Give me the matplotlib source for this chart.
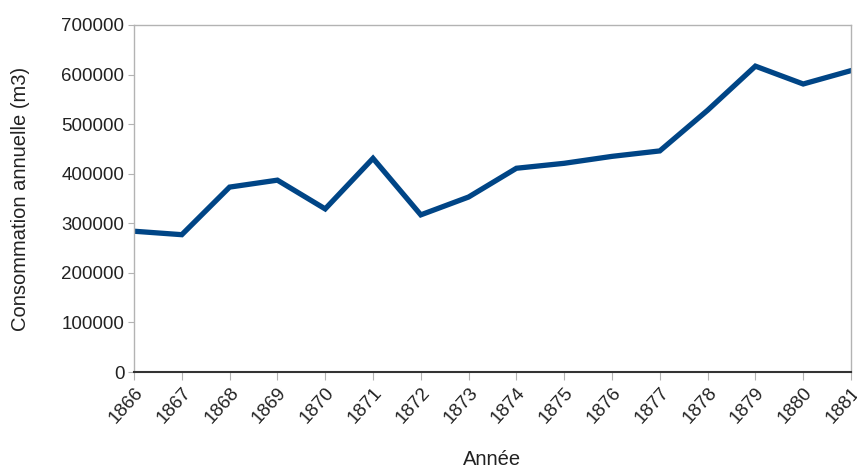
import matplotlib
matplotlib.use("Agg")
import matplotlib.pyplot as plt

plt.rcParams['font.family'] = ['Liberation Sans', 'DejaVu Sans']

years = ['1866', '1867', '1868', '1869', '1870', '1871', '1872', '1873',
         '1874', '1875', '1876', '1877', '1878', '1879', '1880', '1881']
consommation = [284000, 277000, 373000, 387000, 329000, 431000, 317000, 353000,
                411000, 421000, 435000, 446000, 528000, 617000, 581000, 608000]
y_ticks = [0, 100000, 200000, 300000, 400000, 500000, 600000, 700000]

fig = plt.figure(figsize=(8.57, 4.73), dpi=100)
ax = fig.add_axes([134/857, 1 - 372/473, (851 - 134)/857, (372 - 25)/473])

x = list(range(len(years)))
ax.plot(x, consommation, color='#004586', linewidth=3.8, solid_joinstyle='miter')

ax.set_xlim(0, len(years) - 1)
ax.set_ylim(0, 700000)
ax.set_yticks(y_ticks)
ax.set_yticklabels([str(v) for v in y_ticks], fontsize=13.5, color='#222222')
ax.set_xticks(x)
ax.set_xticklabels(years, rotation=48, ha='right', rotation_mode='anchor',
                   fontsize=13.5, color='#222222')

for side in ['left', 'top', 'right']:
    ax.spines[side].set_color('#b3b3b3')
    ax.spines[side].set_linewidth(1.0)
ax.spines['bottom'].set_color('#333333')
ax.spines['bottom'].set_linewidth(1.5)
ax.tick_params(axis='x', length=6, color='#b3b3b3', pad=3)
ax.tick_params(axis='y', length=4, color='#b3b3b3', pad=3)

ax.set_xlabel('Année', fontsize=14.5, color='#222222')
ax.xaxis.set_label_coords(0.5, -78/347)
ax.set_ylabel('Consommation annuelle (m3)', fontsize=14.5, color='#222222')
ax.yaxis.set_label_coords(-104/717, 0.5)

fig.savefig('out.png', dpi=100)
